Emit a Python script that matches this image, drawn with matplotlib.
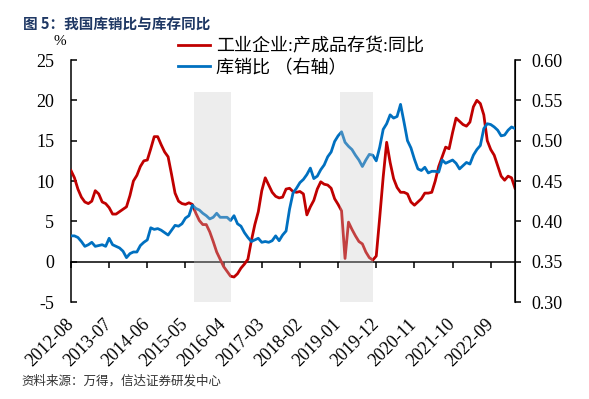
import matplotlib
matplotlib.use("Agg")
import matplotlib.pyplot as plt
import pandas as pd

# 工业企业:产成品存货:同比 (%), monthly from 2012-08
inv_yoy = [11.3, 10.4, 9.0, 8.0, 7.4, 7.2, 7.5, 8.8, 8.4, 7.4,
           7.2, 6.7, 5.9, 5.9, 6.2, 6.5, 6.8, 8.2, 10.0, 10.7,
           11.8, 12.5, 12.6, 14.0, 15.5, 15.5, 14.5, 13.6, 13.0, 10.8,
           8.5, 7.5, 7.2, 7.1, 7.3, 7.1, 6.0, 5.1, 4.6, 4.6,
           3.7, 2.5, 1.2, 0.3, -0.6, -1.2, -1.8, -1.9, -1.5, -0.8,
           -0.3, 0.3, 2.6, 4.6, 6.2, 8.8, 10.4, 9.5, 8.6, 8.1,
           7.9, 8.0, 9.0, 9.1, 8.7, 8.6, 8.7, 8.4, 5.8, 6.8,
           7.6, 9.0, 9.9, 9.6, 9.5, 9.1, 7.8, 7.1, 6.3, 0.4,
           4.9, 4.0, 3.2, 2.5, 2.2, 1.2, 0.5, 0.2, 0.7, 5.5,
           10.5, 14.8, 12.3, 10.3, 9.2, 8.6, 8.6, 8.4, 7.4, 7.0,
           7.4, 7.8, 8.5, 8.5, 8.6, 10.0, 11.8, 13.0, 14.2, 14.0,
           16.0, 17.8, 17.4, 17.0, 16.8, 17.3, 19.2, 20.0, 19.6, 18.2,
           15.0, 13.9, 13.2, 11.9, 10.6, 10.1, 10.6, 10.4, 9.1]

# 库销比 (right axis)
inv_sales = [0.382, 0.382, 0.380, 0.375, 0.369, 0.371, 0.374, 0.369, 0.370, 0.371,
             0.369, 0.379, 0.371, 0.369, 0.367, 0.363, 0.355, 0.360, 0.362, 0.362,
             0.370, 0.374, 0.377, 0.392, 0.390, 0.391, 0.389, 0.386, 0.383, 0.389,
             0.395, 0.394, 0.397, 0.404, 0.407, 0.420, 0.416, 0.414, 0.410, 0.407,
             0.403, 0.405, 0.410, 0.405, 0.405, 0.405, 0.401, 0.407, 0.397, 0.394,
             0.386, 0.380, 0.375, 0.377, 0.379, 0.374, 0.375, 0.374, 0.376, 0.382,
             0.376, 0.383, 0.388, 0.415, 0.435, 0.441, 0.448, 0.452, 0.458, 0.466,
             0.453, 0.456, 0.464, 0.470, 0.480, 0.486, 0.499, 0.506, 0.511, 0.498,
             0.493, 0.489, 0.482, 0.476, 0.468, 0.476, 0.483, 0.482, 0.475, 0.492,
             0.514, 0.521, 0.532, 0.528, 0.530, 0.545, 0.523, 0.500, 0.491, 0.477,
             0.465, 0.463, 0.467, 0.460, 0.462, 0.462, 0.461, 0.476, 0.472, 0.474,
             0.476, 0.472, 0.465, 0.469, 0.473, 0.471, 0.482, 0.489, 0.494, 0.515,
             0.521, 0.520, 0.517, 0.513, 0.506, 0.507, 0.513, 0.517, 0.515]

months = pd.period_range("2012-08", periods=len(inv_yoy), freq="M").strftime("%Y-%m").tolist()
shade_periods = [("2015-08", "2016-06"), ("2019-02", "2019-11")]
label_step = 11

red = "#C00000"
blue = "#0070C0"
serif = ["Liberation Serif", "Noto Sans CJK SC"]
plt.rcParams["font.family"] = serif
plt.rcParams["axes.unicode_minus"] = False

fig = plt.figure(figsize=(5.89, 3.99), dpi=100)
ax = fig.add_axes([0.1205, 0.2431, 0.7539, 0.6065])
ax2 = ax.twinx()

x = list(range(len(months)))
l1, = ax.plot(x, inv_yoy, color=red, lw=2.0, zorder=3, label="工业企业:产成品存货:同比")
l2, = ax2.plot(x, inv_sales, color=blue, lw=2.0, zorder=3, label="库销比 （右轴）")

ax.set_ylim(-5, 25)
ax2.set_ylim(0.30, 0.60)
ax.set_xlim(0, len(months) - 1)
ax.set_yticks(range(-5, 26, 5))
ax2.set_yticks([0.30, 0.35, 0.40, 0.45, 0.50, 0.55, 0.60])
ax2.set_yticklabels([f"{v:.2f}" for v in ax2.get_yticks()])

# shaded periods drawn over lines (lines look faded inside)
for a, b in shade_periods:
    ax2.axvspan(months.index(a) - 0.5, months.index(b), ymin=0, ymax=26 / 30,
                color="#C8C8C8", alpha=0.32, lw=0, zorder=5)

ax.spines["top"].set_visible(False)
ax2.spines["top"].set_visible(False)
ax2.spines["left"].set_visible(False)
ax2.spines["bottom"].set_visible(False)
ax.spines["bottom"].set_position(("data", 0))
for sp in [ax.spines["left"], ax.spines["bottom"], ax2.spines["right"]]:
    sp.set_linewidth(1.1)

ax.tick_params(axis="y", direction="in", length=4, width=1.1, labelsize=13, pad=12)
ax2.tick_params(axis="y", direction="out", length=4, width=1.1, labelsize=13, pad=8)
ax.set_xticks(x[::label_step])
ax.tick_params(axis="x", direction="out", length=4, width=1.1, labelbottom=False)

sec = ax.secondary_xaxis("bottom")
sec.set_xticks(x[::label_step], [months[i] for i in x[::label_step]])
sec.spines["bottom"].set_visible(False)
sec.tick_params(axis="x", length=0, labelsize=13, pad=14)
for t in sec.get_xticklabels():
    t.set_rotation(45)
    t.set_ha("right")
    t.set_va("center")
    t.set_rotation_mode("anchor")

ax.text(-0.025, 1.075, "%", transform=ax.transAxes, fontsize=11, ha="center", va="center")

fig.legend(handles=[l1, l2], loc="upper left", bbox_to_anchor=(0.302, 0.905),
           frameon=False, fontsize=13, borderpad=0, borderaxespad=0,
           handlelength=1.8, handletextpad=0.3, labelspacing=0.25)

fig.text(0.039, 0.938, "图 5：我国库销比与库存同比", fontsize=10.5, fontweight="bold",
         color="#1F3864", family=["Noto Sans CJK SC"], va="center")
fig.text(0.037, 0.045, "资料来源：万得，信达证券研发中心", fontsize=9, color="#333333",
         style="italic", family=["Noto Sans CJK SC"], va="center")

fig.savefig("out.png", dpi=100)
